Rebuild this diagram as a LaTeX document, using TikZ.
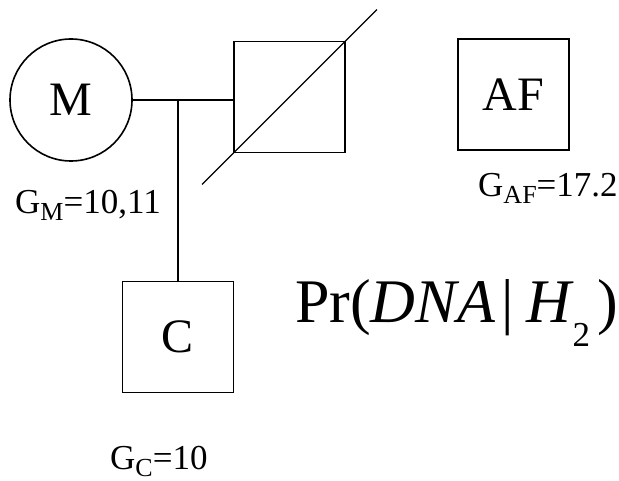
\documentclass[tikz,border=0pt]{standalone}
\usepackage{fontspec}
\setmainfont{Liberation Serif}
\newcommand{\gsub}[2]{G\raisebox{-7pt}{\fontsize{26}{26}\selectfont #1}=#2}

\begin{document}
\begin{tikzpicture}[x=1pt,y=-1pt,
female/.style={circle, draw, line width=1.6pt, minimum size=122pt, inner sep=0pt, font=\fontsize{48}{48}\selectfont},
male/.style={rectangle, draw, line width=1.6pt, minimum size=111pt, inner sep=0pt, font=\fontsize{48}{48}\selectfont},
geno/.style={anchor=base west, inner sep=0pt, font=\fontsize{35}{35}\selectfont}]

\useasboundingbox (0,0) rectangle (619,481);

\draw (71,100) node[female] (M) {M};
\draw (289.5,97) node[male] (F) {};
\draw (513.5,94.5) node[male] (AF) {AF};
\draw (178,337) node[male] (C) {C};

\draw (15,214) node[geno] (GM) {\gsub{M}{10,11}};
\draw (478,197) node[geno] (GAF) {\gsub{AF}{17.2}};
\draw (110,469) node[geno] (GC) {\gsub{C}{10}};

\draw (295,323) node[anchor=base west, inner sep=0pt, font=\fontsize{62}{62}\selectfont] (Pr) {Pr(\textit{DNA}\hspace{0.1em}|\hspace{0.2em}\textit{H}\hspace{-0.02em}\raisebox{-24pt}{\fontsize{35}{35}\selectfont 2}\hspace{0.12em})};

% marriage line and line of descent
\draw[line width=1.2pt] (M.east) -- (M.east -| F.west);
\draw[line width=1.2pt] (M.east -| C.north) -- (C.north);
% deceased
\draw[line width=1.4pt, shorten <=-44pt, shorten >=-44pt] (F.south west) -- (F.north east);
\end{tikzpicture}
\end{document}
